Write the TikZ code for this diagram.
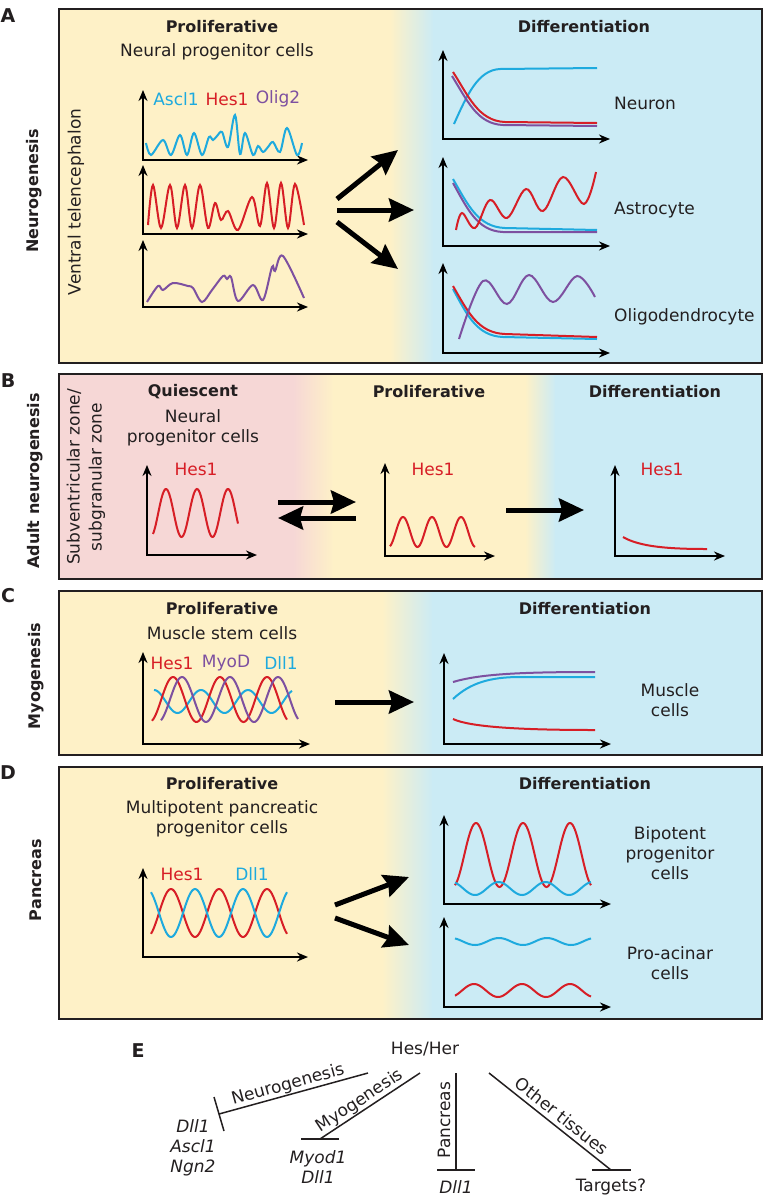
\documentclass[tikz,border=0pt]{standalone}
\usepackage{fontspec}
\setmainfont{DejaVu Sans}
\usetikzlibrary{arrows.meta}
\definecolor{HesRed}{RGB}{215,30,38}
\definecolor{AsclCyan}{RGB}{30,170,222}
\definecolor{OligPurple}{RGB}{125,80,160}
\definecolor{ProlifYellow}{RGB}{254,241,199}
\definecolor{DiffBlue}{RGB}{203,235,245}
\definecolor{QuiesPink}{RGB}{246,215,214}
\definecolor{InkGray}{RGB}{35,31,32}
\tikzset{txt/.style={font=\fontsize{17}{20}\selectfont,text=InkGray,inner sep=0pt,align=center}, head/.style={txt,font=\fontsize{16}{20}\selectfont\bfseries}, letter/.style={txt,font=\fontsize{19}{20}\selectfont\bfseries}, gene/.style={txt,font=\fontsize{17}{20}\selectfont\itshape}, panel/.style={draw=InkGray,line width=1.3pt}, axis/.style={line width=2.4pt,line join=miter,{Stealth[length=11pt,width=9pt]}-{Stealth[length=11pt,width=9pt]}}, fat/.style={line width=5pt,-{Stealth[length=25pt,width=23pt,inset=3pt]}}, hes/.style={draw=HesRed,line width=2pt}, ascl/.style={draw=AsclCyan,line width=2pt}, olig/.style={draw=OligPurple,line width=2pt}, inhib/.style={line width=1.5pt,draw=InkGray}}

\begin{document}
\begin{tikzpicture}[x=1pt,y=-1pt]
\useasboundingbox (0,0) rectangle (764,1200);

% backgrounds
\fill[ProlifYellow] (59,9) rectangle (391,363);
\shade[left color=ProlifYellow,right color=DiffBlue] (390,9) rectangle (434,363);
\fill[DiffBlue] (433,9) rectangle (762,363);
\fill[QuiesPink] (59,374) rectangle (294,579);
\shade[left color=QuiesPink,right color=ProlifYellow] (293,374) rectangle (334,579);
\fill[ProlifYellow] (333,374) rectangle (526,579);
\shade[left color=ProlifYellow,right color=DiffBlue] (525,374) rectangle (556,579);
\fill[DiffBlue] (555,374) rectangle (762,579);
\fill[ProlifYellow] (59,591) rectangle (383,755);
\shade[left color=ProlifYellow,right color=DiffBlue] (382,591) rectangle (433,755);
\fill[DiffBlue] (432,591) rectangle (762,755);
\fill[ProlifYellow] (59,767) rectangle (383,1019);
\shade[left color=ProlifYellow,right color=DiffBlue] (382,767) rectangle (433,1019);
\fill[DiffBlue] (432,767) rectangle (762,1019);
\draw[panel] (59,9) rectangle (762,363);
\draw[panel] (59,374) rectangle (762,579);
\draw[panel] (59,591) rectangle (762,755);
\draw[panel] (59,767) rectangle (762,1019);

% axes: origin x / origin y / top y / right x
\foreach \ox/\oy/\ty/\rx in {143/160/90/308, 143/234/165/308, 143/307/240/308, 443/139/50/610, 443/246/157/610, 443/353/263/610, 147/555/465/257, 385/556/463/495, 615/556/465/725, 143/744/652/310, 444/744/653/611, 143/957/868/308, 444/904/815/611, 444/1007/917/611}
  \draw[axis] (\ox,\ty) |- (\rx,\oy);

% A
\node[letter] (labA) at (8,16) {A};
\node[head,rotate=90] (neuroA) at (34,191) {Neurogenesis};
\node[txt,rotate=90] (ventral) at (76,202) {Ventral telencephalon};
\node[head] (prolifA) at (222,27) {Proliferative};
\node[txt] (npcA) at (217,52) {Neural progenitor cells};
\node[txt,text=AsclCyan] (asclA) at (176,99) {Ascl1};
\node[txt,text=HesRed] (hesA) at (227,99) {Hes1};
\node[txt,text=OligPurple] (oligA) at (278,99) {Olig2};
\node[head] (diffA) at (584,27) {Differentiation};
\node[txt,anchor=west] (neuron) at (614,103) {Neuron};
\node[txt,anchor=west] (astro) at (614,210) {Astrocyte};
\node[txt,anchor=west] (oligo) at (614,317) {Oligodendrocyte};
\draw[ascl] plot[smooth,tension=0.55] coordinates {(146,143) (151,155) (163,140) (171,155) (180,135) (187,155) (194,133) (202,155) (209,137) (213,140) (217,136) (222,132) (228,147) (235,115) (240,154) (245,133) (253,155) (258,146) (263,152) (268,147) (273,142) (280,152) (287,128) (297,155) (302,143)};
\draw[hes] plot[smooth,tension=0.55] coordinates {(148,225) (153,185) (161,228) (170,185) (177,228) (185,185) (192,228) (200,185) (208,228) (215,203) (221,220) (228,211) (238,230) (252,197) (260,226) (267,183) (274,228) (281,183) (288,228) (295,184) (304,225)};
\draw[olig] plot[smooth,tension=0.55] coordinates {(147,302) (158,286) (163,290) (173,283) (188,286) (193,288) (202,302) (212,290) (223,276) (227,279) (231,277) (238,301) (253,285) (263,300) (272,267) (275,271) (283,256) (304,298)};
\coordinate (aS1) at (337,199); \coordinate (aE1) at (398,150);
\coordinate (aS2) at (337,210); \coordinate (aE2) at (414,210);
\coordinate (aS3) at (337,222); \coordinate (aE3) at (398,269);
\draw[fat] (aS1) -- (aE1);
\draw[fat] (aS2) -- (aE2);
\draw[fat] (aS3) -- (aE3);
% neuron
\draw[ascl] (454,124) .. controls (467,95) and (478,70) .. (500,69) -- (597,68);
\draw[olig] (452,76) .. controls (467,100) and (477,124) .. (503,125) -- (597,126);
\draw[hes] (453,72) .. controls (468,95) and (478,121) .. (505,122) -- (597,123);
% astrocyte
\draw[ascl] (453,179) .. controls (468,205) and (478,227) .. (505,228) -- (597,230);
\draw[olig] (453,183) .. controls (467,208) and (477,231) .. (503,232) -- (597,232);
\draw[hes] plot[smooth,tension=0.6] coordinates {(456,230) (462,213) (475,228) (490,200) (507,218) (526,189) (543,211) (563,177) (584,204) (596,172)};
% oligodendrocyte
\draw[ascl] (453,289) .. controls (467,315) and (477,336) .. (503,337) -- (597,339);
\draw[hes] (453,286) .. controls (468,312) and (478,333) .. (505,334) -- (597,337);
\draw[olig] plot[smooth,tension=0.6] coordinates {(459,339) (483,281) (507,304) (529,275) (553,302) (577,276) (595,297)};

% B
\node[letter] (labB) at (8,381) {B};
\node[head,rotate=90] (adult) at (35,481) {Adult neurogenesis};
\node[txt,rotate=90,font=\fontsize{17}{22}\selectfont] (svz) at (86,477) {Subventricular zone/\\subgranular zone};
\node[head] (quies) at (193,392) {Quiescent};
\node[txt] (npcB) at (193,428) {Neural\\progenitor cells};
\node[head] (prolifB) at (429,392) {Proliferative};
\node[head] (diffB) at (655,392) {Differentiation};
\node[txt,text=HesRed] (hesQ) at (196,469) {Hes1};
\node[txt,text=HesRed] (hesP) at (433,469) {Hes1};
\node[txt,text=HesRed] (hesD) at (662,469) {Hes1};
\draw[hes,shift={(153,513)}] plot[domain=0:85,samples=90,variable=\t] (\t,{-24*cos((\t-13)/31*360)});
\draw[hes,shift={(390,532)}] plot[domain=0:85,samples=90,variable=\t] (\t,{-15*cos((\t-13)/29*360)});
\draw[hes] (623,537) .. controls (640,547) and (670,549) .. (707,549);
\coordinate (bS1) at (278,502); \coordinate (bE1) at (356,502);
\coordinate (bS2) at (356,518); \coordinate (bE2) at (278,518);
\coordinate (bS3) at (506,510); \coordinate (bE3) at (584,510);
\draw[fat] (bS1) -- (bE1);
\draw[fat] (bS2) -- (bE2);
\draw[fat] (bS3) -- (bE3);

% C
\node[letter] (labC) at (8,596) {C};
\node[head,rotate=90] (myo) at (36,676) {Myogenesis};
\node[head] (prolifC) at (222,609) {Proliferative};
\node[txt] (msc) at (222,633) {Muscle stem cells};
\node[txt,text=HesRed] (hesC) at (172,663) {Hes1};
\node[txt,text=OligPurple] (myodC) at (226,663) {MyoD};
\node[txt,text=AsclCyan] (dllC) at (281,663) {Dll1};
\node[head] (diffC) at (585,609) {Differentiation};
\node[txt] (muscle) at (670,700) {Muscle\\cells};
\draw[ascl,shift={(154,701.5)}] plot[domain=0:138,samples=100,variable=\t] (\t,{-11.5*cos(\t/47*360)});
\draw[hes,shift={(152,699.5)}] plot[domain=0:135,samples=100,variable=\t] (\t,{-22.5*cos((\t-21)/47*360)});
\draw[olig,shift={(161,699.5)}] plot[domain=0:137,samples=100,variable=\t] (\t,{-22.5*cos((\t-21)/48*360)});
\draw[olig] (453,682) .. controls (480,674) and (520,672) .. (595,672);
\draw[ascl] (453,699) .. controls (470,683) and (490,677) .. (520,677) -- (595,677);
\draw[hes] (453,719) .. controls (470,727) and (520,730) .. (595,730);
\coordinate (cS) at (335,702); \coordinate (cE) at (414,702);
\draw[fat] (cS) -- (cE);

% D
\node[letter] (labD) at (8,773) {D};
\node[head,rotate=90] (panc) at (36,880) {Pancreas};
\node[head] (prolifD) at (222,784) {Proliferative};
\node[txt] (mppc) at (222,819) {Multipotent pancreatic\\progenitor cells};
\node[txt,text=HesRed] (hesDp) at (182,874) {Hes1};
\node[txt,text=AsclCyan] (dllDp) at (252,874) {Dll1};
\node[head] (diffD) at (585,784) {Differentiation};
\node[txt] (bipot) at (670,853) {Bipotent\\progenitor\\cells};
\node[txt] (proac) at (670,963) {Pro-acinar\\cells};
\draw[hes,shift={(151,913)}] plot[domain=0:136,samples=100,variable=\t] (\t,{-24*cos((\t-20)/48*360)});
\draw[ascl,shift={(151,913)}] plot[domain=0:136,samples=100,variable=\t] (\t,{24*cos((\t-20)/48*360)});
\draw[hes,shift={(455,855)}] plot[domain=0:136,samples=120,variable=\t] (\t,{-32*cos((\t-21)/47*360)});
\draw[ascl,shift={(455,888.5)}] plot[domain=0:136,samples=100,variable=\t] (\t,{6.5*cos((\t-20)/47*360)});
\draw[ascl,shift={(455,941.5)}] plot[domain=0:136,samples=100,variable=\t] (\t,{-3.5*cos((\t-44)/48*360)});
\draw[hes,shift={(455,990.5)}] plot[domain=0:136,samples=100,variable=\t] (\t,{-6.5*cos((\t-19)/48*360)});
\coordinate (dS1) at (335,905); \coordinate (dE1) at (409,877);
\coordinate (dS2) at (335,918); \coordinate (dE2) at (409,945);
\draw[fat] (dS1) -- (dE1);
\draw[fat] (dS2) -- (dE2);

% E
\node[letter] (labE) at (138,1051) {E};
\node[txt] (hes) at (425,1049) {Hes/Her};
\coordinate (nS) at (368,1073); \coordinate (nE) at (219,1114);
\coordinate (nB1) at (214,1097); \coordinate (nB2) at (224,1131);
\coordinate (mS) at (420,1073); \coordinate (mE) at (320,1139);
\coordinate (mB1) at (301,1139); \coordinate (mB2) at (339,1139);
\coordinate (pS) at (456,1073); \coordinate (pE) at (456,1170);
\coordinate (pB1) at (437,1170); \coordinate (pB2) at (475,1170);
\coordinate (oS) at (489,1073); \coordinate (oE) at (611,1170);
\coordinate (oB1) at (592,1170); \coordinate (oB2) at (631,1170);
\draw[inhib] (nS) -- (nE); \draw[inhib] (nB1) -- (nB2);
\draw[inhib] (mS) -- (mE); \draw[inhib] (mB1) -- (mB2);
\draw[inhib] (pS) -- (pE); \draw[inhib] (pB1) -- (pB2);
\draw[inhib] (oS) -- (oE); \draw[inhib] (oB1) -- (oB2);
\node[txt,rotate=15.4] (neuroE) at (288,1085) {Neurogenesis};
\node[txt,rotate=33.4] (myoE) at (360,1101) {Myogenesis};
\node[txt,rotate=90] (pancE) at (444,1120) {Pancreas};
\node[txt,rotate=-38.5] (otherE) at (562,1116) {Other tissues};
\node[gene] (tNeuro) at (193,1148) {Dll1\\Ascl1\\Ngn2};
\node[gene] (tMyo) at (318,1167) {Myod1\\Dll1};
\node[gene] (tPanc) at (456,1187) {Dll1};
\node[txt] (tOther) at (611,1187) {Targets?};
\end{tikzpicture}
\end{document}
